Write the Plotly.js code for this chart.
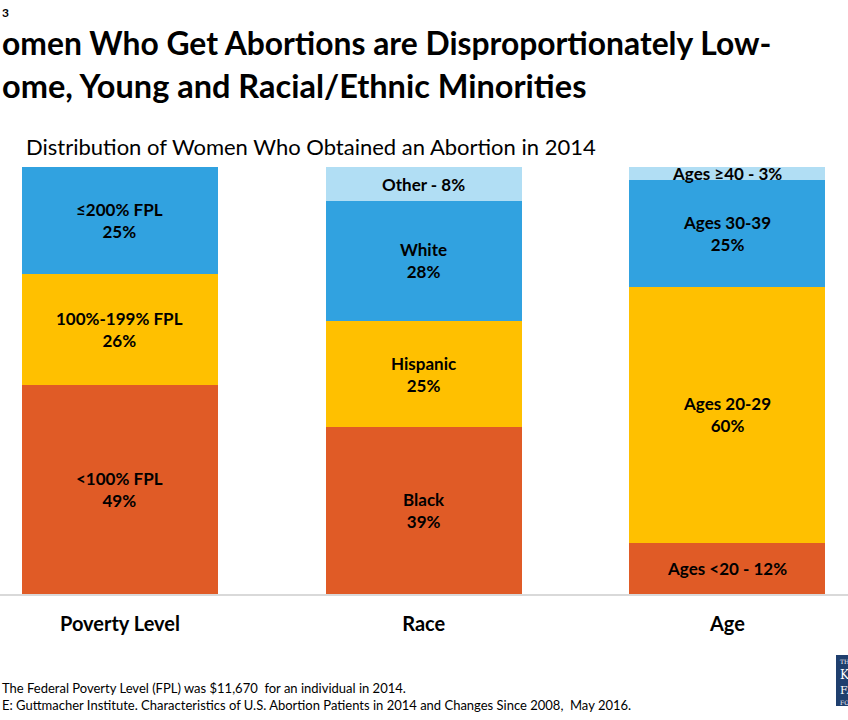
<!DOCTYPE html>
<html>
<head>
<meta charset="utf-8">
<script src="https://cdn.plot.ly/plotly-3.0.1.min.js"></script>
<style>
html,body{margin:0;padding:0;background:#fff;}
#chart{width:848px;height:720px;}
</style>
</head>
<body>
<div id="chart"></div>
<script>
// ---- data ----
var categories = ['Poverty Level', 'Race', 'Age'];
var povertyLabels = ['<100% FPL', '100%-199% FPL', '≤200% FPL'];
var povertyValues = [49, 26, 25];
var raceLabels = ['Black', 'Hispanic', 'White', 'Other'];
var raceValues = [39, 25, 28, 8];
var ageLabels = ['Ages <20', 'Ages 20-29', 'Ages 30-39', 'Ages ≥40'];
var ageValues = [12, 60, 25, 3];
var layerColors = ['#E05B26', '#FFC000', '#31A2E0', '#B1DEF4'];

var groupLabels = [povertyLabels, raceLabels, ageLabels];
var groupValues = [povertyValues, raceValues, ageValues];

var FONT = 'Lato, "Open Sans", sans-serif';

// ---- traces: one per stacking layer ----
var traces = [];
for (var layer = 0; layer < 4; layer++) {
  var ys = groupValues.map(function (vals) { return vals[layer] !== undefined ? vals[layer] : 0; });
  traces.push({
    type: 'bar',
    x: categories,
    y: ys,
    width: 0.645,
    marker: { color: layerColors[layer], line: { width: 0 } },
    hoverinfo: 'none',
    showlegend: false
  });
}

// ---- segment labels ----
var annotations = [];
groupValues.forEach(function (vals, gi) {
  var base = 0;
  vals.forEach(function (v, si) {
    var mid = base + v / 2;
    var lab = groupLabels[gi][si];
    var txt = v < 15 ? ('<b>' + lab + ' - ' + v + '%</b>') : ('<b>' + lab + '</b><br><b>' + v + '%</b>');
    annotations.push({
      xref: 'x', yref: 'y', x: categories[gi], y: mid,
      text: txt, showarrow: false,
      font: { family: FONT, size: 17, color: '#000' },
      xanchor: 'center', yanchor: 'middle'
    });
    base += v;
  });
});

// ---- titles and notes ----
function pyPaper(py) { return (594 - py) / 427; }
annotations.push(
  { xref: 'paper', yref: 'paper', x: 0, y: pyPaper(12), xanchor: 'left', yanchor: 'middle',
    text: '<b>3</b>', showarrow: false, font: { family: FONT, size: 12, color: '#000' } },
  { xref: 'paper', yref: 'paper', x: 0, y: pyPaper(43), xanchor: 'left', yanchor: 'middle',
    text: '<b>omen Who Get Abortions are Disproportionately Low-</b>', showarrow: false,
    font: { family: FONT, size: 31.8, color: '#000' } },
  { xref: 'paper', yref: 'paper', x: 0, y: pyPaper(85), xanchor: 'left', yanchor: 'middle',
    text: '<b>ome, Young and Racial/Ethnic Minorities</b>', showarrow: false,
    font: { family: FONT, size: 32.5, color: '#000' } },
  { xref: 'paper', yref: 'paper', x: 24 / 848, y: pyPaper(147), xanchor: 'left', yanchor: 'middle',
    text: 'Distribution of Women Who Obtained an Abortion in 2014', showarrow: false,
    font: { family: FONT, size: 22, color: '#000' } },
  { xref: 'paper', yref: 'paper', x: 0, y: pyPaper(688), xanchor: 'left', yanchor: 'middle',
    text: 'The Federal Poverty Level (FPL) was $11,670  for an individual in 2014.', showarrow: false,
    font: { family: FONT, size: 13, color: '#000' } },
  { xref: 'paper', yref: 'paper', x: 0, y: pyPaper(705), xanchor: 'left', yanchor: 'middle',
    text: 'E: Guttmacher Institute. Characteristics of U.S. Abortion Patients in 2014 and Changes Since 2008,  May 2016.', showarrow: false,
    font: { family: FONT, size: 13, color: '#000' } }
);
// logo letters
[['TH', 661, 6], ['K', 675, 12], ['FA', 690, 11], ['FO', 702, 6]].forEach(function (t) {
  annotations.push({ xref: 'paper', yref: 'paper', x: 838 / 848, y: pyPaper(t[1]), xanchor: 'left', yanchor: 'middle',
    text: t[0], showarrow: false, font: { family: 'DejaVu Serif, serif', size: t[2], color: '#fff' } });
});

var layout = {
  width: 848, height: 720,
  margin: { l: 0, r: 0, t: 167, b: 126, pad: 0 },
  paper_bgcolor: '#fff', plot_bgcolor: '#fff',
  barmode: 'stack',
  font: { family: FONT },
  xaxis: {
    type: 'category', range: [-0.395, 2.397], fixedrange: true,
    showline: true, linecolor: '#D9D9D9', linewidth: 1.5,
    showgrid: false, zeroline: false, ticks: '',
    ticklabelstandoff: 11,
    tickfont: { family: FONT, size: 20, color: '#000', weight: 'bold' }
  },
  yaxis: {
    range: [0, 100], showgrid: false, zeroline: false, showticklabels: false,
    showline: false, ticks: '', fixedrange: true
  },
  shapes: [
    { type: 'rect', xref: 'paper', yref: 'paper', x0: 836 / 848, x1: 1.01, y0: pyPaper(706), y1: pyPaper(655),
      fillcolor: '#1F3F6E', line: { width: 0 } }
  ],
  annotations: annotations
};

Plotly.newPlot('chart', traces, layout, { displayModeBar: false, staticPlot: true });
</script>
</body>
</html>
